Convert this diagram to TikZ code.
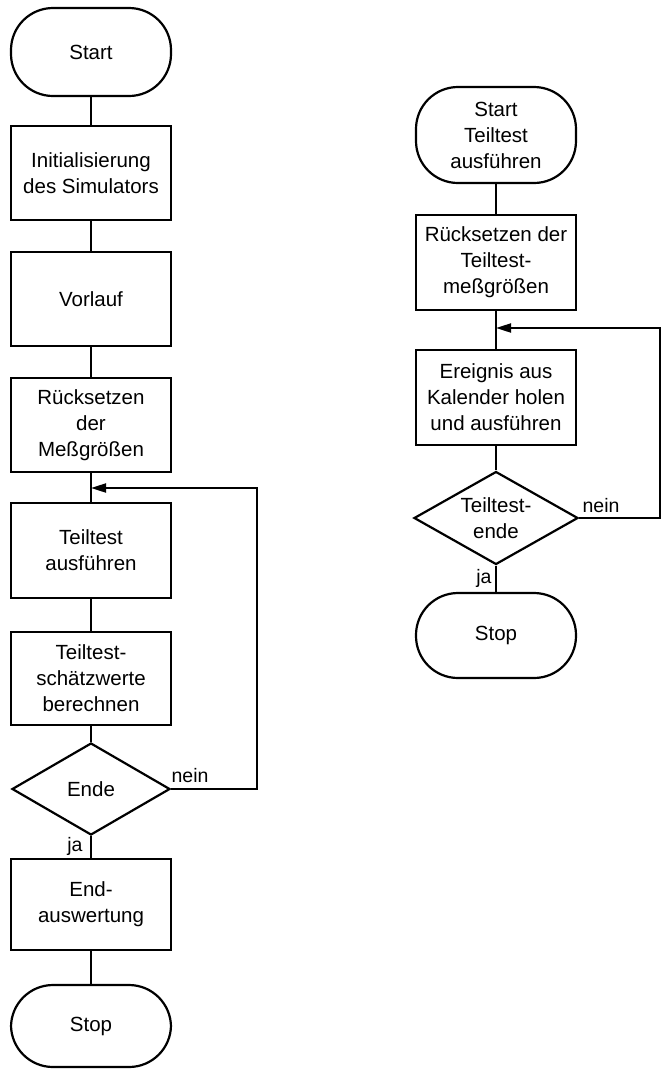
\documentclass[tikz,border=0pt]{standalone}
\usepackage{fontspec}
\setmainfont{Liberation Sans}
\usetikzlibrary{shapes.geometric,arrows.meta}
\begin{document}
\begin{tikzpicture}[x=1pt,y=1pt,
  every node/.style={font=\fontsize{20.5}{26}\selectfont, align=center, inner sep=0pt},
  proc/.style={draw, line width=2.4pt, minimum width=160pt, minimum height=94pt},
  term/.style={draw, line width=2.2pt, rectangle, rounded corners=42pt, minimum width=160pt},
  decision/.style={draw, line width=2.2pt, diamond, shape aspect=1.7, minimum width=158pt, minimum height=92pt},
  link/.style={line width=2pt},
  arr/.style={line width=2pt, -{Triangle[length=15pt,width=9pt]}},
  lbl/.style={font=\fontsize{19.5}{22}\selectfont}
]
\useasboundingbox (0,0) rectangle (662,-1069);

% main simulation run
\node[term, minimum height=88pt] (start) at (91,-52) {Start};
\node[proc] (init) at (91,-173) {Initialisierung\\des Simulators};
\node[proc] (vorlauf) at (91,-299) {Vorlauf};
\node[proc] (reset) at (91,-425) {Rücksetzen\\der\\Meßgrößen};
\node[proc, minimum height=95pt] (teil) at (91,-550.5) {Teiltest\\ausführen};
\node[proc, minimum height=93pt] (schaetz) at (91,-678.5) {Teiltest-\\schätzwerte\\berechnen};
\node[decision] (ende) at (91,-789) {Ende};
\node[proc, minimum height=91pt] (endaus) at (91,-904.5) {End-\\auswertung};
\node[term, minimum height=82pt] (stop) at (91,-1026) {Stop};

\draw[link] (start) -- (init);
\draw[link] (init) -- (vorlauf);
\draw[link] (vorlauf) -- (reset);
\draw[link] (reset) -- (teil);
\draw[link] (teil) -- (schaetz);
\draw[link] (schaetz) -- (ende);
\draw[link] (ende) -- (endaus);
\draw[link] (endaus) -- (stop);

\coordinate (loopA) at (257,-488);
\coordinate (joinA) at (91,-488);
\draw[arr] (ende.east) -| (loopA) -- (joinA);
\node[lbl] (neinA) at (190,-776) {nein};
\node[lbl] (jaA) at (75,-846) {ja};

% sub-test procedure
\node[term, minimum height=96pt] (tstart) at (496,-135) {Start\\Teiltest\\ausführen};
\node[proc, minimum height=95pt] (treset) at (496,-262.5) {Rücksetzen der\\Teiltest-\\meßgrößen};
\node[proc, minimum height=95pt] (ereig) at (496,-397.5) {Ereignis aus\\Kalender holen\\und ausführen};
\node[decision, minimum width=164pt, minimum height=93pt] (tende) at (496,-518) {Teiltest-\\ende};
\node[term, minimum height=85pt] (tstop) at (496,-635.5) {Stop};

\draw[link] (tstart) -- (treset);
\draw[link] (treset) -- (ereig);
\draw[link] (ereig) -- (tende);
\draw[link] (tende) -- (tstop);

\coordinate (loopB) at (660,-328);
\coordinate (joinB) at (496,-328);
\draw[arr] (tende.east) -| (loopB) -- (joinB);
\node[lbl] (neinB) at (601,-506) {nein};
\node[lbl] (jaB) at (484,-578) {ja};
\end{tikzpicture}
\end{document}
